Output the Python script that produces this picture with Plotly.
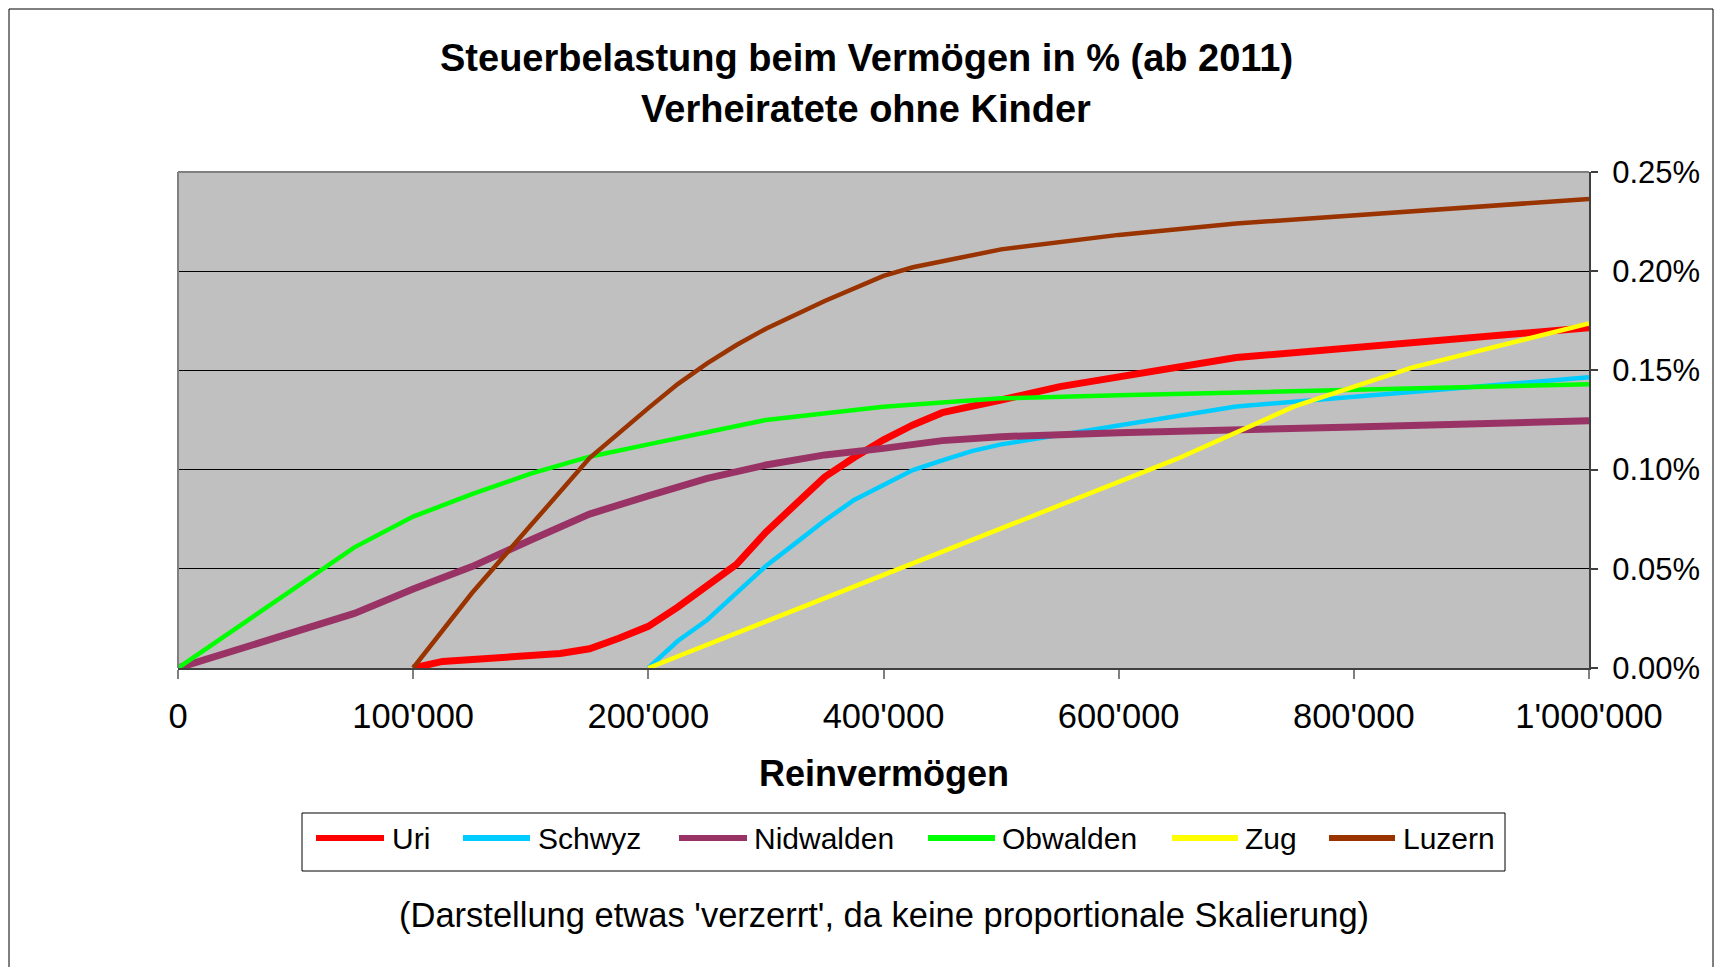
import plotly.graph_objects as go

# Kategorien der x-Achse (nicht proportional: 0-200k in 12.5k-Schritten, danach 25k)
kategorien = [0, 12500, 25000, 37500, 50000, 62500, 75000, 87500, 100000,
              112500, 125000, 137500, 150000, 162500, 175000, 187500, 200000,
              225000, 250000, 275000, 300000, 325000, 350000, 375000, 400000,
              425000, 450000, 475000, 500000, 525000, 550000, 575000, 600000,
              625000, 650000, 675000, 700000, 725000, 750000, 775000, 800000,
              825000, 850000, 875000, 900000, 925000, 950000, 975000, 1000000]

tick_werte = [0, 100000, 200000, 400000, 600000, 800000, 1000000]
tick_texte = ["0", "100'000", "200'000", "400'000", "600'000", "800'000", "1'000'000"]

# Steuerbelastung in %
uri_x = [100000, 112500, 162500, 175000, 187500, 200000, 225000, 250000, 275000, 300000,
         350000, 375000, 400000, 425000, 450000, 500000, 550000, 700000, 1000000]
uri_y = [0, 0.0033, 0.0073, 0.0097, 0.015, 0.021, 0.0307, 0.0415, 0.0522, 0.0685,
         0.0963, 0.1061, 0.115, 0.1225, 0.1287, 0.1351, 0.1418, 0.1565, 0.1715]

schwyz_x = [200000, 225000, 250000, 275000, 300000, 325000, 350000, 375000, 400000,
            425000, 450000, 475000, 500000, 700000, 1000000]
schwyz_y = [0, 0.0136, 0.0242, 0.0378, 0.0514, 0.0628, 0.0743, 0.0847, 0.0925,
            0.0998, 0.1047, 0.1093, 0.1127, 0.1318, 0.1465]

nidwalden_x = [0, 75000, 100000, 125000, 150000, 175000, 200000, 250000, 300000,
               350000, 400000, 450000, 500000, 600000, 800000, 1000000]
nidwalden_y = [0, 0.0275, 0.0398, 0.0511, 0.0645, 0.0776, 0.0868, 0.0956, 0.1023,
               0.1074, 0.1107, 0.1146, 0.1166, 0.1186, 0.1215, 0.1246]

obwalden_x = [0, 75000, 100000, 125000, 150000, 175000, 200000, 300000, 400000,
              500000, 600000, 800000, 1000000]
obwalden_y = [0, 0.0608, 0.0763, 0.0876, 0.098, 0.1065, 0.1127, 0.125, 0.1317,
              0.1359, 0.1375, 0.1405, 0.143]

zug_x = [200000, 650000, 750000, 850000, 1000000]
zug_y = [0, 0.1055, 0.132, 0.1515, 0.1737]

luzern_x = [100000, 125000, 150000, 175000, 200000, 225000, 250000, 275000, 300000,
            350000, 400000, 425000, 500000, 600000, 700000, 1000000]
luzern_y = [0, 0.0378, 0.0719, 0.1058, 0.131, 0.1431, 0.1535, 0.1628, 0.171,
            0.185, 0.1976, 0.202, 0.211, 0.2183, 0.224, 0.2364]

kantone = ["Uri", "Schwyz", "Nidwalden", "Obwalden", "Zug", "Luzern"]
farben = ["#FF0000", "#00CCFF", "#993366", "#00FF00", "#FFFF00", "#993300"]
breiten = [7, 4.5, 7, 4.5, 4.5, 4.5]
serien_x = [uri_x, schwyz_x, nidwalden_x, obwalden_x, zug_x, luzern_x]
serien_y = [uri_y, schwyz_y, nidwalden_y, obwalden_y, zug_y, luzern_y]

W, H = 1722, 967
OFF = 8  # Seitenrand des Browsers
L, R, T, B = 178, 1589, 172, 668  # Plotbereich in Pixel (auf dem Bild)
schrift = "Liberation Sans, Arial, sans-serif"


def px_x(x):
    return (x - L) / (R - L)


def px_y(y):
    return (B - y) / (B - T)


fig = go.Figure()
for name, farbe, breite, xs, ys in zip(kantone, farben, breiten, serien_x, serien_y):
    fig.add_trace(go.Scatter(x=xs, y=ys, mode="lines", name=name,
                             line=dict(color=farbe, width=breite), showlegend=False))

shapes = []
annotations = []

# Rahmen aussen
shapes.append(dict(type="rect", xref="paper", yref="paper",
                   x0=px_x(9), x1=px_x(1713), y0=px_y(990), y1=px_y(9),
                   line=dict(color="#000000", width=1)))
# Rahmen Plotbereich (links/oben grau)
shapes.append(dict(type="line", xref="paper", yref="paper", x0=0, x1=0, y0=0, y1=1,
                   line=dict(color="#808080", width=2)))
shapes.append(dict(type="line", xref="paper", yref="paper", x0=0, x1=1, y0=1, y1=1,
                   line=dict(color="#808080", width=2)))

# Legende von Hand (Excel-Stil)
shapes.append(dict(type="rect", xref="paper", yref="paper",
                   x0=px_x(302), x1=px_x(1505), y0=px_y(871), y1=px_y(813),
                   line=dict(color="#000000", width=1), fillcolor="white"))
leg_linie = [(316, 384), (463, 530), (679, 747), (928, 995), (1172, 1238), (1329, 1395)]
leg_text = [390, 536, 752, 1000, 1243, 1401]
for name, farbe, (a, b), t in zip(kantone, farben, leg_linie, leg_text):
    shapes.append(dict(type="line", xref="paper", yref="paper",
                       x0=px_x(a), x1=px_x(b), y0=px_y(838), y1=px_y(838),
                       line=dict(color=farbe, width=6)))
    annotations.append(dict(text=name, xref="paper", yref="paper", x=px_x(t), y=px_y(838),
                            xanchor="left", yanchor="middle", showarrow=False,
                            font=dict(size=30, color="black", family=schrift)))

# Titel
annotations.append(dict(text="<b>Steuerbelastung beim Vermögen in % (ab 2011)</b>",
                        xref="paper", yref="paper", x=px_x(866), y=px_y(58),
                        xanchor="center", yanchor="middle", showarrow=False,
                        font=dict(size=38, color="black", family=schrift)))
annotations.append(dict(text="<b>Verheiratete ohne Kinder</b>",
                        xref="paper", yref="paper", x=px_x(866), y=px_y(109),
                        xanchor="center", yanchor="middle", showarrow=False,
                        font=dict(size=38, color="black", family=schrift)))
# Achsentitel
annotations.append(dict(text="<b>Reinvermögen</b>", xref="paper", yref="paper",
                        x=px_x(884), y=px_y(773), xanchor="center", yanchor="middle",
                        showarrow=False, font=dict(size=36, color="black", family=schrift)))
# Fussnote
annotations.append(dict(text="(Darstellung etwas 'verzerrt', da keine proportionale Skalierung)",
                        xref="paper", yref="paper", x=px_x(884), y=px_y(915),
                        xanchor="center", yanchor="middle", showarrow=False,
                        font=dict(size=34.5, color="black", family=schrift)))

fig.update_layout(
    width=W, height=H,
    margin=dict(l=L - OFF, r=W - (R - OFF), t=T - OFF, b=H - (B - OFF), autoexpand=False),
    paper_bgcolor="white",
    plot_bgcolor="#C0C0C0",
    font=dict(family=schrift, color="black"),
    shapes=shapes,
    annotations=annotations,
    xaxis=dict(type="category", categoryorder="array", categoryarray=kategorien,
               range=[0, len(kategorien) - 1],
               tickmode="array", tickvals=tick_werte, ticktext=tick_texte,
               ticks="outside", ticklen=9, tickcolor="#808080", tickwidth=2,
               showgrid=False, showline=True, linecolor="#404040", linewidth=2,
               zeroline=False, tickfont=dict(size=34.5, color="black"),
               ticklabelstandoff=8),
    yaxis=dict(side="right", range=[0, 0.25], tickmode="linear", tick0=0, dtick=0.05,
               tickformat=".2f", ticksuffix="%",
               ticks="outside", ticklen=7, tickcolor="#404040", tickwidth=2,
               showgrid=True, gridcolor="#000000", gridwidth=1,
               showline=True, linecolor="#404040", linewidth=2,
               zeroline=False, tickfont=dict(size=31, color="black"),
               ticklabelstandoff=8),
)

fig.write_html("out.html")
